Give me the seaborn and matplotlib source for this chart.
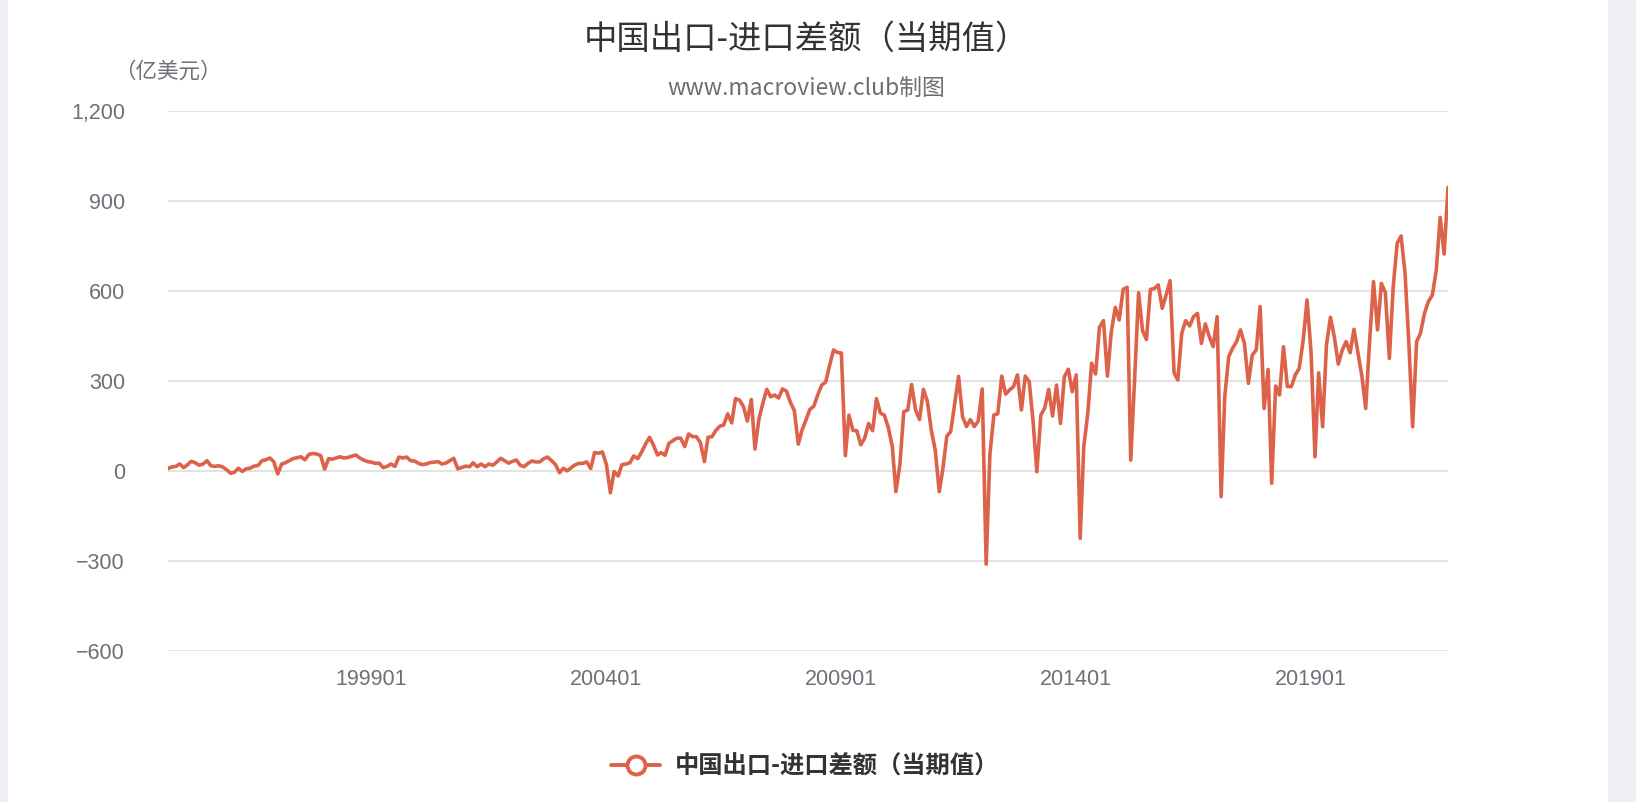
import matplotlib
matplotlib.use("Agg")
import matplotlib.pyplot as plt
import matplotlib.patches as mpatches
from matplotlib.lines import Line2D
import seaborn as sns
import pandas as pd
import numpy as np

# ---------------- data (亿美元), monthly 1994-09 .. 2021-12 ----------------
start_month = "1994-09-01"
series_name = "中国出口-进口差额（当期值）"

values_1994_2000 = [7, 12, 14, 22, 10, 20, 31, 26, 18, 22, 33, 16, 14, 16, 12, 3, -9, -5, 8, -3,
                    6, 8, 15, 17, 33, 36, 42, 30, -11, 22, 26, 33, 40, 43, 46, 36, 54, 57, 55, 50,
                    5, 40, 38, 42, 46, 42, 44, 48, 52, 42, 35, 30, 28, 24, 25, 10, 14, 22, 14, 45,
                    42, 45, 33, 32, 24, 20, 22, 27, 28, 30, 22, 25]
values_2000_2004 = [33, 41, 6, 10, 15, 13, 26, 13, 22, 13, 22, 18, 29, 41, 33, 25, 31, 35, 18, 13,
                    24, 32, 29, 29, 40, 45, 33, 20, -7, 8, -1, 9, 19, 24, 24, 29, 7, 60, 58, 62,
                    20, -74]
values_2004_2006 = [-3, -18, 20, 22, 26, 49, 40, 62, 89, 111, 85, 52, 60, 51, 91, 100, 108, 108, 80, 122,
                    113, 113, 93, 30]
values_2006_2012 = [111, 113, 134, 148, 152, 189, 159, 240, 235, 214, 165, 237, 72, 172, 224, 271, 246, 252, 242, 272,
                    265, 228, 200, 88, 135, 169, 204, 215, 252, 285, 295, 350, 402, 394, 392, 50, 185, 134, 133, 86,
                    108, 157, 133, 240, 191, 185, 143, 80, -70, 20, 196, 202, 287, 202, 170, 271, 230, 135, 68, -70,
                    5, 115, 130, 222, 314, 180, 147, 170, 147, 165, 272, -312, 55, 186, 189]
values_2012_2017 = [315, 255, 269, 280, 319, 202, 315, 296, 157, -4, 185, 208, 271, 182, 285, 157, 313, 338, 263, 319,
                    -226, 80, 191, 358, 322, 478, 500, 315, 463, 544, 502, 604, 611, 35, 313, 593, 466, 437, 604, 607,
                    619, 541, 585, 633, 326, 302, 458, 500, 482, 513, 524, 424, 489, 446, 413, 513]
values_2017_2021 = [-87, 246, 380, 408, 430, 469, 424, 291, 385, 402, 547, 207, 337, -42, 282, 252, 413, 280, 280, 319,
                    341, 435, 569, 396, 46, 326, 146, 419, 511, 446, 355, 402, 430, 393, 471, 391, 313, 207, 435, 630,
                    469, 624, 593, 374, 613, 758, 782, 658, 413, 146, 430, 458, 524, 563, 585, 669, 844, 722, 944]

values = (values_1994_2000 + values_2000_2004 + values_2004_2006 +
          values_2006_2012 + values_2012_2017 + values_2017_2021)
dates = pd.date_range(start_month, periods=len(values), freq="MS")
df = pd.DataFrame({"date": dates, "value": values})

x_tick_dates = pd.to_datetime(["1999-01-01", "2004-01-01", "2009-01-01", "2014-01-01", "2019-01-01"])
x_tick_labels = ["199901", "200401", "200901", "201401", "201901"]
y_ticks = [-600, -300, 0, 300, 600, 900, 1200]
y_tick_labels = ["\u2212600", "\u2212300", "0", "300", "600", "900", "1,200"]

# ---------------- style ----------------
sns.set_theme(style="white")
plt.rcParams["font.family"] = ["Noto Sans CJK SC", "DejaVu Sans"]

line_color = "#dc6249"
grid_color = "#e3e3e3"
tick_color = "#6e7079"

W, H = 1636, 802
fig = plt.figure(figsize=(W / 100, H / 100), dpi=100)
fig.patch.set_facecolor("white")

# light side strips of the page
fig.patches.append(mpatches.Rectangle((1608 / W, 0), 1 - 1608 / W, 1, transform=fig.transFigure,
                                      facecolor="#eff0f5", edgecolor="none", zorder=0))
fig.patches.append(mpatches.Rectangle((0, 0), 8 / W, 1, transform=fig.transFigure,
                                      facecolor="#eff0f5", edgecolor="none", zorder=0))

left, right = 168 / W, 1448 / W
bottom, top = 1 - 650.6 / H, 1 - 110.6 / H
ax = fig.add_axes([left, bottom, right - left, top - bottom])
ax.set_facecolor("none")

sns.lineplot(data=df, x="date", y="value", ax=ax, color=line_color, linewidth=2.6,
             legend=False, zorder=3)

ax.set_xlim(dates[0], dates[-1])
ax.set_ylim(-600, 1200)
ax.set_yticks(y_ticks)
ax.set_yticklabels(y_tick_labels, family=["Liberation Sans", "DejaVu Sans"], fontsize=15.5, color=tick_color)
ax.set_xticks(x_tick_dates)
ax.set_xticklabels(x_tick_labels, family=["Liberation Sans", "DejaVu Sans"], fontsize=15.5, color=tick_color)
ax.tick_params(axis="both", length=0)
ax.tick_params(axis="y", pad=31)
ax.tick_params(axis="x", pad=13.5)
ax.set_xlabel("")
ax.set_ylabel("")
for s in ax.spines.values():
    s.set_visible(False)
for yv in y_ticks:
    ax.axhline(yv, color=grid_color, linewidth=1.4, zorder=1)

# ---------------- texts ----------------
fig.text(806 / W, 1 - 39 / H, series_name, ha="center", va="center", fontsize=24, color="#333333")
fig.text(806 / W, 1 - 88 / H, "www.macroview.club制图", ha="center", va="center", fontsize=16.5,
         color="#6e6e6e")
fig.text(168 / W, 1 - 72 / H, "（亿美元）", ha="center", va="center", fontsize=15.5, color="#6e7079")

handle = Line2D([0], [0], color=line_color, linewidth=2.8, marker="o", markersize=13,
                markerfacecolor="white", markeredgecolor=line_color, markeredgewidth=2.8)
leg = fig.legend([handle], [series_name], loc="center", bbox_to_anchor=(805 / W, 1 - 767 / H),
                 frameon=False, handlelength=2.0, handletextpad=0.6,
                 prop={"size": 17.5, "weight": "bold", "family": ["Noto Sans CJK SC", "DejaVu Sans"]})
for t in leg.get_texts():
    t.set_color("#333333")

fig.savefig("out.png", dpi=100, facecolor=fig.get_facecolor())
